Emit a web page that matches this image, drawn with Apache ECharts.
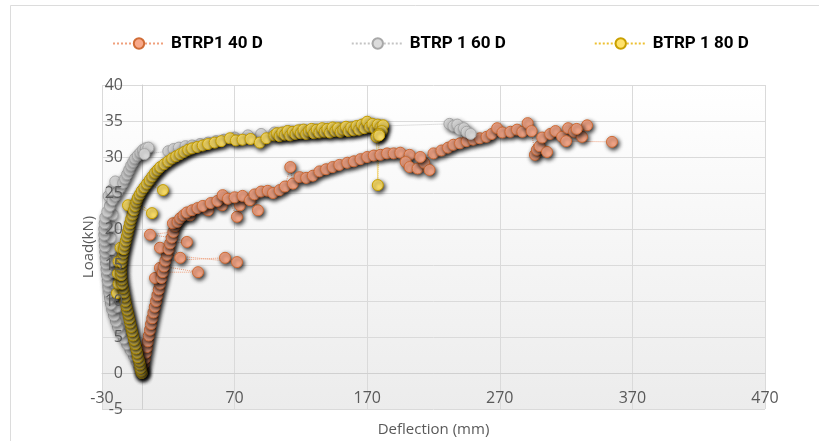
<!DOCTYPE html>
<html>
<head>
<meta charset="utf-8">
<script src="https://cdn.jsdelivr.net/npm/echarts@6/dist/echarts.min.js"></script>
<style>html,body{margin:0;padding:0;background:#fff;}#c{width:819px;height:441px;}</style>
</head>
<body>
<div id="c"></div>
<script>
var seriesNames = ['BTRP1 40 D', 'BTRP 1 60 D', 'BTRP 1 80 D'];

var orangeData = [
[0,0],[0.8,0.6],[1.5,1.3],[2.2,2],[3,2.8],[3.8,3.6],[4.5,4.4],[5.3,5.2],[6.2,6],[7,6.8],
[7.9,7.6],[8.8,8.4],[9.8,9.2],[10.8,10],[11.8,10.8],[12.8,11.6],[13.8,12.4],[10,13.2],[14.8,13.2],[13.7,14.6],
[15.8,14],[42.4,14],[16.8,14.8],[17.8,15.6],[62.8,16],[71.8,15.4],[19,16.4],[13.7,17.4],[20.2,17.2],[29,16],
[21.4,18],[34,18.2],[22.6,18.8],[6.2,19.2],[23.8,19.6],[25,20.4],[23.5,20.8],[27,21],[29,21.5],[31.5,21.9],
[36.4,21.9],[34,22.3],[38,22.6],[42,22.9],[50,22.6],[46,23.2],[52,23.6],[60.5,23.3],[57,23.9],[61,24.7],
[65,24.2],[71.8,21.7],[74,23.3],[70,24.4],[76,24.6],[81.6,24],[87.6,22.6],[85,24.8],[90,25.2],[95,25.3],
[99,25],[104,25.4],[108,25.9],[112,28.6],[114,26.3],[119,27.2],[124,27.1],[129,27.4],[134,28],[139,28.3],
[144,28.6],[149,28.9],[155,29.2],[160,29.4],[165,29.7],[170,30],[175,30.2],[180,30.3],[185,30.5],[190,30.5],
[195,30.6],[202,30.3],[199,29.3],[202,28.6],[208,28.4],[213,29.2],[217,28.2],[210,30],[220,30.5],[226,30.9],
[231,31.3],[235,31.7],[240,31.9],[245,32.2],[250,32.4],[255,32.6],[260,32.8],[264,33.2],[268,34],[272,33.4],
[278,33.5],[283,33.8],[287,33.5],[291,34.7],[294,33.6],[296.5,30.3],[298,31],[300,31.5],[305.6,30.7],[302,32.7],
[308,33.2],[312,33.6],[317,32.8],[321.5,34],[326,33.5],[332,32.8],[335.8,34.4],[328,33.9],[320,32.2],[354.6,32.1]
];

var grayData = [
[0,0],[-2,0.8],[-4,1.6],[-6,2.4],[-8.5,3.2],[-11,4],[-13.5,4.8],[-16,5.6],[-18,6.4],[-19.5,7.2],
[-21,8],[-22.3,8.8],[-18.5,9.2],[-23.3,9.6],[-24,10.4],[-20,10.8],[-24.6,11.2],[-25.2,12],[-21,12.4],[-25.7,12.8],
[-26.2,13.6],[-22,14],[-26.6,14.4],[-27,15.2],[-22.5,15.6],[-27.3,16],[-27.6,16.8],[-23,17.2],[-27.9,17.6],[-28.1,18.4],
[-23.5,18.8],[-28.3,19.2],[-28.3,20],[-23,20.4],[-28,20.8],[-27.5,21.6],[-22,22],[-26,22.4],[-24,23.2],[-25,24.6],
[-22,24],[-20,24.6],[-23,25.4],[-18,25.2],[-16,25.8],[-20,26.6],[-14,26.4],[-12.5,27],[-11,27.6],[-9.5,28.2],
[-8,28.8],[-6.5,29.3],[-5,29.8],[-3,30.2],[-1,30.6],[1,31],[3,31.2],[5,31.3],[2,30.4],[20,30.8],
[24,31.1],[28,31.3],[33,31.5],[38,31.6],[44,31.8],[50,32],[56,32.2],[62,32.4],[70,32.7],[80,33],
[90,33.2],[100,33.4],[110,33.6],[120,33.7],[130,33.8],[140,33.9],[150,34],[160,34.1],[170,34.2],[180,34.3],
[232,34.6],[235,34.3],[238,34.5],[240,33.8],[243,34],[245,33.5],[248,33.2]
];

var yellowData = [
[0,0],[-0.5,0.3],[-1,0.7],[-1.5,1.2],[-2,1.7],[-3,2.2],[-3.5,2.8],[-4.2,3.4],[-5,4],[-5.8,4.6],
[-6.5,5.2],[-7.3,5.8],[-8,6.4],[-8.8,7],[-9.5,7.6],[-10.2,8.2],[-11,8.8],[-11.7,9.4],[-12.4,10],[-13,10.6],
[-18.7,11.1],[-13.6,11.2],[-14.2,11.8],[-17.5,12.4],[-14.8,12.4],[-15.2,13],[-18,13.8],[-15.5,13.6],[-15.6,14.2],[-15.5,14.8],
[-17.5,15.5],[-15.2,15.4],[-14.8,16],[-14.2,16.6],[-16,17.4],[-13.5,17.2],[-12.8,17.8],[-12,18.4],[-11.2,19],[-10.4,19.6],
[-9.6,20.2],[-8.8,20.8],[-8,21.4],[-7,22],[-10.4,23.3],[-6,22.6],[-5,23.2],[7.7,22.2],[-4,23.8],[-3,24.3],
[-1.5,24.8],[0,25.3],[2,25.8],[4,26.3],[16,25.4],[6,26.8],[8,27.3],[10,27.8],[12,28.2],[14,28.6],
[17,29],[20,29.4],[23,29.8],[26,30.1],[29,30.4],[32,30.7],[35,31],[38,31.2],[42,31.4],[46,31.6],
[50,31.8],[55,32],[60,32.2],[66.5,32.6],[71,32.3],[76,32.4],[82,32.5],[89,32],[94,32.6],[100,33],
[102,33.3],[104,32.9],[106,33.4],[108,33.1],[110,33.6],[112,33],[114,33.5],[116,33.2],[118,33.7],[120,33.3],
[122,33.8],[124,33.2],[126,33.6],[128,33.9],[130,33.3],[132,33.8],[134,33.4],[136,34],[138,33.5],[140,33.9],
[142,33.4],[144,34.1],[146,33.6],[148,34],[150,33.5],[152,33.8],[154,34.2],[156,33.6],[158,34.1],[160,33.7],
[162,34.3],[164,33.8],[166,34.5],[168,34],[170,34.9],[172,34.2],[174,34.6],[176,33.9],[178,34.5],[180,34.1],
[182,34.4],[181,33.6],[179,33.2],[177,32.8],[178,26.1],[179,33]
];

var xTickMin = -30, xTickMax = 470, xTickStep = 100;
var yTickMin = -5, yTickMax = 40, yTickStep = 5;

var chart = echarts.init(document.getElementById('c'), null, {renderer: 'canvas'});

function mk(name, data, fill, border, lineCol, shadowAlpha) {
  return {
    name: name,
    type: 'line',
    data: data,
    xAxisIndex: 0, yAxisIndex: 0,
    z: 2,
    symbol: 'circle',
    symbolSize: 11,
    showAllSymbol: true,
    smooth: false,
    lineStyle: {color: lineCol, width: 1, type: 'dotted'},
    itemStyle: {
      color: fill, borderColor: border, borderWidth: 1,
      shadowBlur: 4, shadowColor: 'rgba(0,0,0,' + shadowAlpha + ')', shadowOffsetX: 1.5, shadowOffsetY: 2
    },
    emphasis: {disabled: true}
  };
}

var labelFont = '"Open Sans", "DejaVu Sans", sans-serif';

chart.setOption({
  animation: false,
  backgroundColor: '#ffffff',
  graphic: [{
    type: 'rect', silent: true, z: -10,
    shape: {x: 10.5, y: 5.5, width: 900, height: 500},
    style: {fill: 'none', stroke: '#dcdcdc', lineWidth: 1}
  }],
  legend: {
    left: 107, top: 30,
    itemWidth: 52, itemHeight: 13, itemGap: 88,
    textStyle: {fontFamily: '"Roboto", sans-serif', fontWeight: 'bold', fontSize: 17, color: '#000', padding: [0,0,0,1]},
    data: seriesNames
  },
  grid: {
    left: 102, right: 54, top: 85, bottom: 32, containLabel: false,
    outerBoundsMode: 'none',
    show: true, borderWidth: 0,
    backgroundColor: {type: 'linear', x: 0, y: 0, x2: 0, y2: 1,
      colorStops: [{offset: 0, color: '#ffffff'}, {offset: 1, color: '#ececec'}]}
  },
  xAxis: {
    type: 'value', min: xTickMin, max: xTickMax, interval: xTickStep,
    position: 'bottom', offset: -36,
    name: 'Deflection (mm)', nameLocation: 'middle', nameGap: 49,
    nameTextStyle: {fontFamily: labelFont, fontSize: 15, color: '#595959'},
    axisLine: {show: true, onZero: false, lineStyle: {color: '#d0d0d0', width: 1}},
    axisTick: {show: false},
    axisLabel: {margin: 17, fontFamily: labelFont, fontSize: 16, color: '#595959'},
    splitLine: {show: true, lineStyle: {color: '#dadada', width: 1}}
  },
  yAxis: [{
    type: 'value', min: yTickMin, max: yTickMax, interval: yTickStep,
    position: 'left', offset: -40,
    name: 'Load(kN)', nameLocation: 'middle', nameGap: 46,
    nameTextStyle: {fontFamily: labelFont, fontSize: 15, color: '#595959'},
    axisLine: {show: true, onZero: false, lineStyle: {color: '#d0d0d0', width: 1}},
    axisTick: {show: false},
    axisLabel: {show: false},
    splitLine: {show: true, lineStyle: {color: '#dadada', width: 1}}
  }, {
    type: 'value', min: yTickMin, max: yTickMax, interval: yTickStep,
    position: 'left', offset: -40, z: 50, zlevel: 1,
    axisLine: {show: false, onZero: false},
    axisTick: {show: false},
    axisLabel: {margin: 19, fontFamily: labelFont, fontSize: 16, color: '#595959'},
    splitLine: {show: false}
  }],
  series: [
    mk(seriesNames[0], orangeData, '#F8A98A', '#D06C36', '#F0A07C', 0.85),
    mk(seriesNames[1], grayData, '#DCDCDC', '#A8A8A8', '#C4C4C4', 0.45),
    mk(seriesNames[2], yellowData, '#FFE26A', '#C9A000', '#EDC030', 0.85)
  ]
});
</script>
</body>
</html>
